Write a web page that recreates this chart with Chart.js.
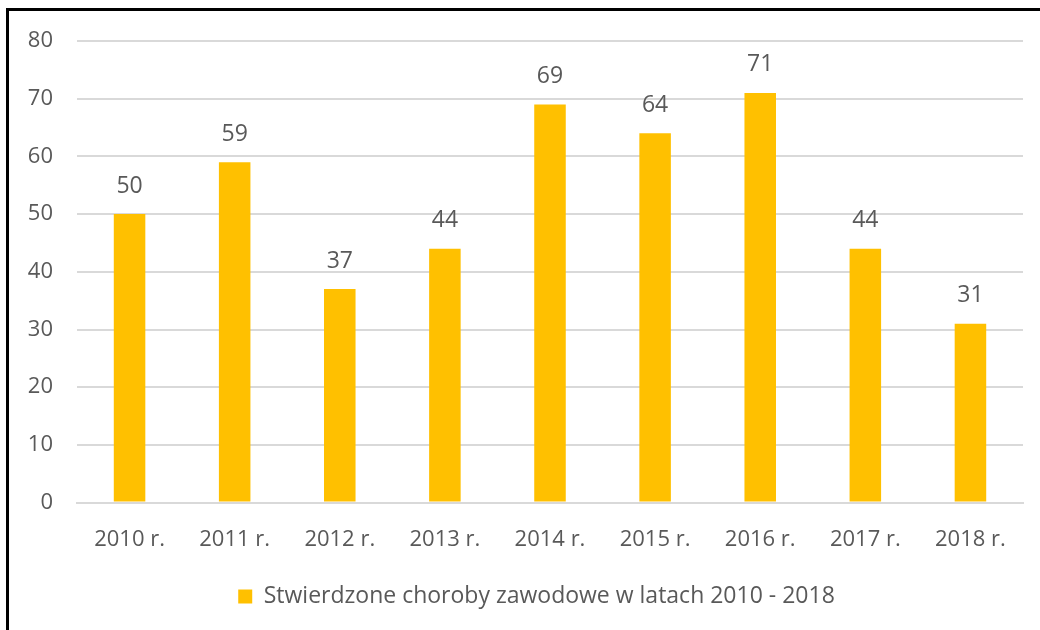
<!DOCTYPE html>
<html>
<head>
<meta charset="utf-8">
<script src="https://cdn.jsdelivr.net/npm/chart.js@4/dist/chart.umd.min.js"></script>
<style>
  html, body { margin: 0; padding: 0; background: #fff; }
  #wrap { position: relative; width: 1040px; height: 630px; }
  #frame { position: absolute; left: 6px; top: 8px; right: 0; bottom: 0;
           border-left: 3px solid #000; border-top: 3px solid #000; }
  canvas { position: absolute; left: 0; top: 0; }
</style>
</head>
<body>
<div id="wrap">
  <div id="frame"></div>
  <canvas id="chart" width="1040" height="630"></canvas>
</div>
<script>
const years = ["2010 r.", "2011 r.", "2012 r.", "2013 r.", "2014 r.", "2015 r.", "2016 r.", "2017 r.", "2018 r."];
const cases = [50, 59, 37, 44, 69, 64, 71, 44, 31];
const seriesName = "Stwierdzone choroby zawodowe w latach 2010 - 2018";

const FONT = "'Open Sans', sans-serif";
const TEXT = "#595959";

// value labels above the bars
const barLabels = {
  id: "barLabels",
  afterDatasetsDraw(chart) {
    const ctx = chart.ctx;
    const meta = chart.getDatasetMeta(0);
    ctx.save();
    ctx.font = "23px " + FONT;
    ctx.fillStyle = TEXT;
    ctx.textAlign = "center";
    ctx.textBaseline = "middle";
    meta.data.forEach((bar, i) => {
      ctx.fillText(cases[i], bar.x, bar.y - 28);
    });
    ctx.restore();
  }
};

// legend sits a bit right of the canvas centre in the original
const shiftLegend = {
  id: "shiftLegend",
  afterLayout(chart) {
    chart.legend.left += 20;
    chart.legend.right += 20;
  }
};

new Chart(document.getElementById("chart").getContext("2d"), {
  type: "bar",
  data: {
    labels: years,
    datasets: [{
      label: seriesName,
      data: cases,
      backgroundColor: "#FFC000",
      barPercentage: 0.3,
      categoryPercentage: 1.0
    }]
  },
  options: {
    responsive: false,
    animation: false,
    devicePixelRatio: 1,
    layout: { padding: { left: 10, right: 17, top: 41, bottom: 12 } },
    plugins: {
      legend: {
        position: "bottom",
        labels: {
          boxWidth: 14, boxHeight: 14, padding: 16,
          color: TEXT, font: { family: FONT, size: 23 }
        }
      },
      tooltip: { enabled: false }
    },
    scales: {
      x: {
        grid: { display: false },
        border: { color: "#D9D9D9", width: 2 },
        ticks: { color: TEXT, font: { family: FONT, size: 22 }, padding: 16, maxRotation: 0 }
      },
      y: {
        min: 0, max: 80,
        afterFit(scale) { scale.width = 67; },
        grid: { color: "#D9D9D9", lineWidth: 2, drawTicks: false },
        border: { display: false },
        ticks: { stepSize: 10, color: TEXT, font: { family: FONT, size: 22 }, padding: 24 }
      }
    }
  },
  plugins: [barLabels, shiftLegend]
});
</script>
</body>
</html>
